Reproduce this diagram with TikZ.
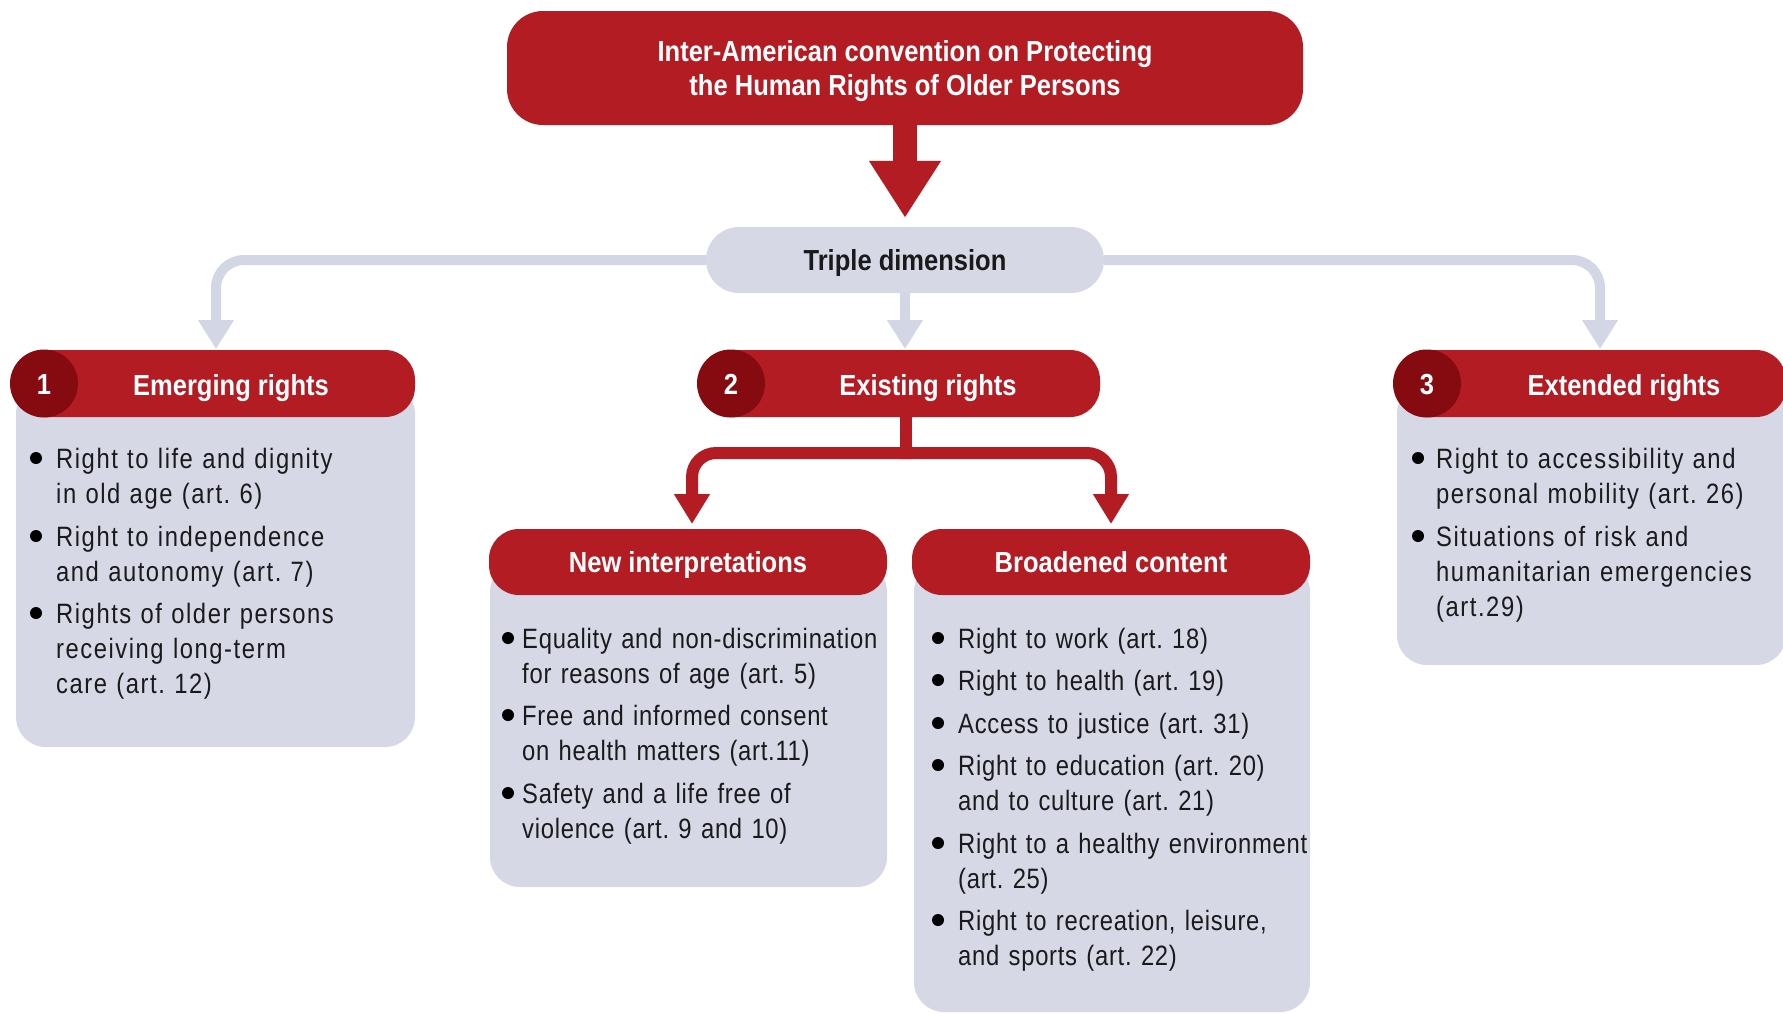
\documentclass[tikz,border=0pt]{standalone}
\usepackage{fontspec}
\setmainfont{Liberation Sans}
\newfontfamily\headfont[FakeStretch=0.88]{Liberation Sans}
\newfontfamily\bodyfontA[FakeStretch=0.85,LetterSpace=5.5]{Liberation Sans}
\newfontfamily\bodyfontB[FakeStretch=0.85,LetterSpace=2.6]{Liberation Sans}
\usetikzlibrary{arrows.meta}
\definecolor{cvred}{HTML}{B41C24}
\definecolor{cvdark}{HTML}{850B10}
\definecolor{cvgray}{HTML}{D6D8E6}
\definecolor{cvline}{HTML}{D3D6E5}
\definecolor{cvtext}{HTML}{1A1A1A}
\begin{document}
\begin{tikzpicture}[x=1pt,y=-1pt,
  redbox/.style={fill=cvred, draw=none, rounded corners=30pt, inner sep=0pt},
  graybox/.style={fill=cvgray, draw=none, rounded corners=30pt, inner sep=0pt},
  headfnt/.style={font=\headfont\bfseries\fontsize{29}{34}\selectfont},
  capcentre/.style={text height=21pt, text depth=0pt},
  numdisc/.style={circle, fill=cvdark, minimum size=68pt, inner sep=0pt, text=white, headfnt, capcentre},
  headtext/.style={text=white, inner sep=0pt, headfnt, capcentre},
  itemA/.style={anchor=base west, text width=430pt, align=left, inner sep=0pt, text=cvtext, font=\bodyfontA\fontsize{28}{35}\selectfont},
  itemB/.style={anchor=base west, text width=430pt, align=left, inner sep=0pt, text=cvtext, font=\bodyfontB\fontsize{28}{35}\selectfont},
  bulletdot/.style={circle, fill=black, minimum size=12pt, inner sep=0pt},
  grayarrow/.style={draw=cvline, line width=10pt, rounded corners=28pt, -{Triangle[width=34pt,length=29pt]}},
  redarrow/.style={draw=cvred, line width=12pt, rounded corners=24pt, -{Triangle[width=34pt,length=30pt]}},
  bigarrow/.style={draw=cvred, line width=24pt, -{Triangle[width=68pt,length=57pt]}}
]
\fill[white] (0,0) rectangle (1783,1013);
\useasboundingbox (0,0) rectangle (1783,1013);

% title
\node[redbox, minimum width=796pt, minimum height=114pt, rounded corners=36pt] (title) at (905,68) {};
\node[text=white, align=center, headfnt, inner sep=0pt] (titletext) at (905,71)
  {Inter-American convention on Protecting\\the Human Rights of Older Persons};

% triple dimension
\node[graybox, minimum width=398pt, minimum height=66pt, rounded corners=33pt,
      text=cvtext, headfnt, capcentre] (td) at (905,260) {Triple dimension};

\draw[bigarrow] (title.south) -- ([yshift=9pt]td.north);

% gray connectors
\coordinate (g1) at (216,349);
\coordinate (g2) at (905,349);
\coordinate (g3) at (1600,349);
\draw[grayarrow] (td.west) -| (g1);
\draw[grayarrow] (td.east) -| (g3);
\draw[grayarrow] (td.south) -- (g2);

% bodies
\node[graybox, minimum width=399pt, minimum height=363pt] (b1) at (215.5,565.5) {};
\node[graybox, minimum width=389pt, minimum height=281pt] (b3) at (1591.5,524.5) {};
\node[graybox, minimum width=397pt, minimum height=325pt] (bni) at (688.5,724.5) {};
\node[graybox, minimum width=396pt, minimum height=450pt] (bbc) at (1112,787) {};

% headers
\node[redbox, minimum width=401pt, minimum height=67pt] (h1) at (214.5,383.5) {};
\node[numdisc] (c1) at (44,383.5) {1};
\node[headtext] (t1) at (231,384.5) {Emerging rights};

\node[redbox, minimum width=401pt, minimum height=67pt] (h2) at (899.5,383.5) {};
\node[numdisc] (c2) at (731,383.5) {2};
\node[headtext] (t2) at (928,384.5) {Existing rights};

\node[redbox, minimum width=391pt, minimum height=67pt] (h3) at (1590.5,383.5) {};
\node[numdisc] (c3) at (1427,383.5) {3};
\node[headtext] (t3) at (1624,384.5) {Extended rights};

\node[redbox, minimum width=398pt, minimum height=66pt, text=white, headfnt, capcentre] (hni) at (688,562) {New interpretations};
\node[redbox, minimum width=398pt, minimum height=66pt, text=white, headfnt, capcentre] (hbc) at (1111,562) {Broadened content};

% red connectors from existing rights
\coordinate (ex) at (906,417);
\coordinate (jn) at (906,453);
\coordinate (r1) at (692,524);
\coordinate (r2) at (1111,524);
\draw[cvred, line width=12pt] (ex) -- (jn);
\draw[redarrow] ([xshift=6pt]jn) -| (r1);
\draw[redarrow] ([xshift=-6pt]jn) -| (r2);

% box 1 items
\node[bulletdot] (d11) at (36,458) {};
\node[itemA] (i11) at (56,468) {Right to life and dignity\\in old age (art.~6)};
\node[bulletdot] (d12) at (36,536) {};
\node[itemA] (i12) at (56,546) {Right to independence\\and autonomy (art.~7)};
\node[bulletdot] (d13) at (36,613) {};
\node[itemA] (i13) at (56,623) {Rights of older persons\\receiving long-term\\care (art.~12)};

% box 3 items
\node[bulletdot] (d31) at (1418,458) {};
\node[itemA] (i31) at (1436,468) {Right to accessibility and\\personal mobility (art.~26)};
\node[bulletdot] (d32) at (1418,536) {};
\node[itemA] (i32) at (1436,546) {Situations of risk and\\humanitarian emergencies\\(art.29)};

% new interpretations items
\node[bulletdot] (dn1) at (508,638) {};
\node[itemB] (in1) at (522,648) {Equality and non-discrimination\\for reasons of age (art.~5)};
\node[bulletdot] (dn2) at (508,715) {};
\node[itemB] (in2) at (522,725) {Free and informed consent\\on health matters (art.11)};
\node[bulletdot] (dn3) at (508,793) {};
\node[itemB] (in3) at (522,803) {Safety and a life free of\\violence (art.~9 and 10)};

% broadened content items
\node[bulletdot] (db1) at (938,638) {};
\node[itemB] (ib1) at (958,648) {Right to work (art.~18)};
\node[bulletdot] (db2) at (938,680) {};
\node[itemB] (ib2) at (958,690) {Right to health (art.~19)};
\node[bulletdot] (db3) at (938,723) {};
\node[itemB] (ib3) at (958,733) {Access to justice (art.~31)};
\node[bulletdot] (db4) at (938,765) {};
\node[itemB] (ib4) at (958,775) {Right to education (art.~20)\\and to culture (art.~21)};
\node[bulletdot] (db5) at (938,843) {};
\node[itemB] (ib5) at (958,853) {Right to a healthy environment\\(art.~25)};
\node[bulletdot] (db6) at (938,920) {};
\node[itemB] (ib6) at (958,930) {Right to recreation, leisure,\\and sports (art.~22)};
\end{tikzpicture}
\end{document}
